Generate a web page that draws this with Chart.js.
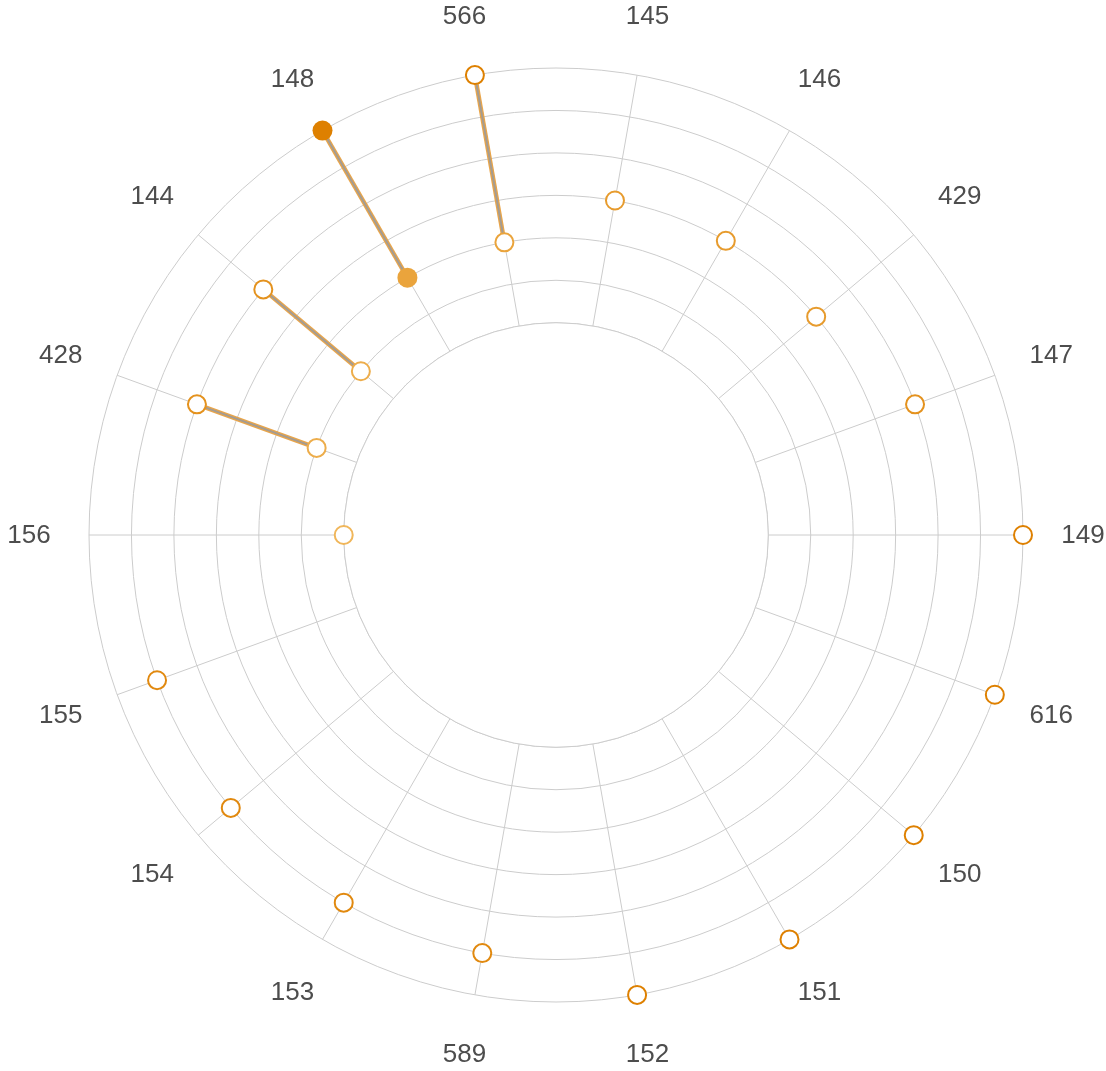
<!DOCTYPE html>
<html>
<head>
<meta charset="utf-8">
<style>
  html, body { margin: 0; padding: 0; background: #ffffff; }
  #wrap { width: 1106px; height: 1071px; }
</style>
<script src="https://cdn.jsdelivr.net/npm/chart.js@4.4.1/dist/chart.umd.min.js"></script>
</head>
<body>
<div id="wrap"><canvas id="chart" width="1106" height="1071"></canvas></div>
<script>
// Spoke categories, clockwise starting just left of the top
const labels = ['566', '145', '146', '429', '147', '149', '616', '150', '151',
                '152', '589', '153', '154', '155', '156', '428', '144', '148'];

// Main open-circle value on each spoke (ring units, 0 = inner hole edge)
const pointValues  = [6, 3, 3, 3, 4, 6, 6, 6, 6, 6, 5, 5, 5, 5, 0, 4, 4, null];
// Second open-circle value on spokes that show a range
const pairedValues = [2, null, null, null, null, null, null, null, null, null, null, null, null, null, null, 1, 1, null];
// Highlighted (filled) range on spoke 148
const selectedHigh = [null, null, null, null, null, null, null, null, null, null, null, null, null, null, null, null, null, 6];
const selectedLow  = [null, null, null, null, null, null, null, null, null, null, null, null, null, null, null, null, null, 2];

// Scale domain: negative part forms the empty hole in the middle
const scaleMin = -5;
const scaleMax = 6;

const gridColor = '#cccccc';
const lightOrange = [240, 182, 90];
const darkOrange = [222, 128, 0];

function colorFor(v) {
  if (v === null || v === undefined) return 'rgba(0,0,0,0)';
  const t = Math.max(0, Math.min(1, v / scaleMax));
  const c = lightOrange.map((a, i) => Math.round(a + (darkOrange[i] - a) * t));
  return 'rgb(' + c.join(',') + ')';
}

const holePlugin = {
  id: 'holeAndRanges',
  beforeDatasetsDraw(chart) {
    const s = chart.scales.r;
    const ctx = chart.ctx;
    const r0 = s.getDistanceFromCenterForValue(0);
    ctx.save();
    ctx.beginPath();
    ctx.arc(s.xCenter, s.yCenter, r0, 0, Math.PI * 2);
    ctx.fillStyle = '#ffffff';
    ctx.fill();
    ctx.lineWidth = 1;
    ctx.strokeStyle = gridColor;
    ctx.stroke();

    // range segments between the values sharing a spoke
    const all = [pointValues, pairedValues, selectedHigh, selectedLow];
    labels.forEach((lab, i) => {
      const vals = all.map(a => a[i]).filter(v => v !== null && v !== undefined);
      if (vals.length < 2) return;
      const lo = Math.min(...vals), hi = Math.max(...vals);
      const p1 = s.getPointPositionForValue(i, lo);
      const p2 = s.getPointPositionForValue(i, hi);
      ctx.lineCap = 'butt';
      ctx.beginPath();
      ctx.moveTo(p1.x, p1.y);
      ctx.lineTo(p2.x, p2.y);
      ctx.strokeStyle = 'rgba(232,160,64,0.95)';
      ctx.lineWidth = 4.5;
      ctx.stroke();
      ctx.beginPath();
      ctx.moveTo(p1.x, p1.y);
      ctx.lineTo(p2.x, p2.y);
      ctx.strokeStyle = '#a49c92';
      ctx.lineWidth = 2;
      ctx.stroke();
    });
    ctx.restore();
  },
  afterDraw(chart) {
    const s = chart.scales.r;
    const ctx = chart.ctx;
    ctx.save();
    ctx.font = '26px "Liberation Sans", Arial, sans-serif';
    ctx.fillStyle = '#4d4d4d';
    ctx.textAlign = 'center';
    ctx.textBaseline = 'middle';
    labels.forEach((lab, i) => {
      const p = s.getPointPosition(i, s.drawingArea + 60);
      ctx.fillText(lab, p.x, p.y + 1);
    });
    ctx.restore();
  }
};

function pointSet(data, filled, radius) {
  return {
    data: data,
    showLine: false,
    fill: false,
    borderWidth: 0,
    spanGaps: true,
    pointRadius: ctx => (ctx.raw === null ? 0 : radius),
    pointBorderWidth: filled ? 0 : 2,
    pointBorderColor: ctx => colorFor(ctx.raw),
    pointBackgroundColor: ctx => (filled ? colorFor(ctx.raw) : '#ffffff')
  };
}

new Chart(document.getElementById('chart'), {
  type: 'radar',
  data: {
    labels: labels,
    datasets: [
      pointSet(pointValues, false, 9),
      pointSet(pairedValues, false, 9),
      pointSet(selectedHigh, true, 10),
      pointSet(selectedLow, true, 10)
    ]
  },
  options: {
    responsive: false,
    animation: false,
    events: [],
    layout: { padding: { left: 89, right: 83, top: 68, bottom: 69 } },
    plugins: { legend: { display: false }, tooltip: { enabled: false } },
    scales: {
      r: {
        min: scaleMin,
        max: scaleMax,
        startAngle: -10,
        beginAtZero: false,
        ticks: { display: false, stepSize: 1 },
        pointLabels: { display: false },
        grid: {
          circular: true,
          lineWidth: 1,
          color: ctx => (ctx.tick && ctx.tick.value < 0 ? 'rgba(0,0,0,0)' : gridColor)
        },
        angleLines: { display: true, color: gridColor, lineWidth: 1 }
      }
    }
  },
  plugins: [holePlugin]
});
</script>
</body>
</html>
